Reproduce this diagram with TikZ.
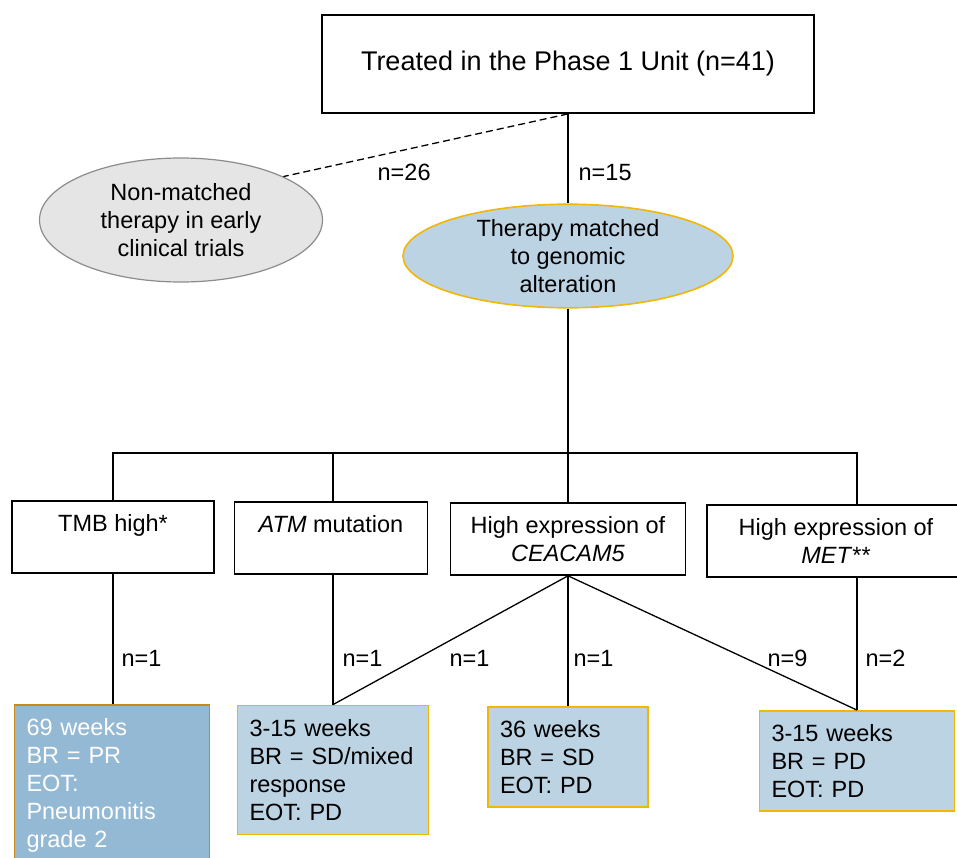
\documentclass[tikz,border=0pt]{standalone}
\usepackage{fontspec}
\setmainfont{Liberation Sans}
\usetikzlibrary{shapes.geometric}
\definecolor{matched}{HTML}{BCD3E4}
\definecolor{matchedline}{HTML}{F2B705}
\definecolor{respond}{HTML}{94B9D4}
\definecolor{respondline}{HTML}{C7891E}
\definecolor{nonmatched}{HTML}{E5E5E5}
\definecolor{nonmatchedline}{HTML}{8C8C8C}

\begin{document}
\begin{tikzpicture}[x=1pt,y=-1pt,line width=1.3pt,
  every node/.style={font=\fontsize{23.5}{28}\selectfont},
  gene/.style={draw,line width=1.6pt,minimum height=72pt,align=center,inner sep=0pt},
  outcome/.style={draw=matchedline,fill=matched,line width=1.8pt,align=left,inner xsep=12pt,inner ysep=0pt},
  cnt/.style={anchor=base west,inner sep=0pt},
]
  \useasboundingbox (0,0) rectangle (957,857);

  \node[draw,line width=1.8pt,minimum width=492pt,minimum height=98pt,font=\fontsize{27}{32}\selectfont] (unit) at (568,64) {Treated in the Phase 1 Unit (n=41)};

  \node[ellipse,draw=nonmatchedline,fill=nonmatched,line width=1.2pt,minimum width=283pt,minimum height=124pt,inner sep=0pt,align=center] (other) at (181,220) {Non-matched\\therapy in early\\clinical trials};
  \node[ellipse,draw=matchedline,fill=matched,line width=1.6pt,minimum width=330pt,minimum height=103pt,inner sep=0pt,align=center] (genomic) at (568,256) {Therapy matched\\to genomic\\alteration};

  \draw[dash pattern=on 7pt off 4pt] (unit.south) -- (other.23);
  \draw (unit.south) -- (genomic.north);
  \node[cnt] (n26) at (377,180) {n=26};
  \node[cnt] (n15) at (578,180) {n=15};

  % alterations
  \node[gene,minimum width=202pt] (tmb) at (113,537) {TMB high*\\\mbox{}};
  \node[gene,minimum width=193pt] (atm) at (331,538) {\textit{ATM} mutation\\\mbox{}};
  \node[gene,minimum width=235pt] (cea) at (568,539) {High expression of\\\textit{CEACAM5}};
  \node[gene,minimum width=258pt] (met) at (836,541) {High expression of\\\textit{MET}**};

  % outcomes
  \node[outcome,draw=respondline,fill=respond,text=white,text width=171pt,minimum height=160pt] (r1) at (112,785) {69 weeks\\BR = PR\\EOT:\\Pneumonitis\\grade 2};
  \node[outcome,text width=167pt,minimum height=129pt] (r2) at (333,770) {3-15 weeks\\BR = SD/mixed\\response\\EOT: PD};
  \node[outcome,text width=136pt,minimum height=100pt] (r3) at (568,757) {36 weeks\\BR = SD\\EOT: PD};
  \node[outcome,text width=171pt,minimum height=100pt] (r4) at (857,761) {3-15 weeks\\BR = PD\\EOT: PD};

  \coordinate (bar) at (568,453);
  \draw (genomic.south) -- (bar);
  \draw (tmb.north) |- (bar) -| (met.north -| r4.north);
  \draw (bar -| r2.north) -- (atm.north -| r2.north);
  \draw (bar) -- (cea.north);

  \draw (tmb.south) -- (tmb.south |- r1.north);
  \draw (atm.south -| r2.north) -- (r2.north);
  \draw (cea.south) -- (r2.north);
  \draw (cea.south) -- (r3.north);
  \draw (cea.south) -- (r4.north);
  \draw (met.south -| r4.north) -- (r4.north);

  \node[cnt] (c1) at (121,666) {n=1};
  \node[cnt] (c2) at (342,666) {n=1};
  \node[cnt] (c3) at (449,666) {n=1};
  \node[cnt] (c4) at (573,666) {n=1};
  \node[cnt] (c5) at (767,666) {n=9};
  \node[cnt] (c6) at (865,666) {n=2};
\end{tikzpicture}
\end{document}
